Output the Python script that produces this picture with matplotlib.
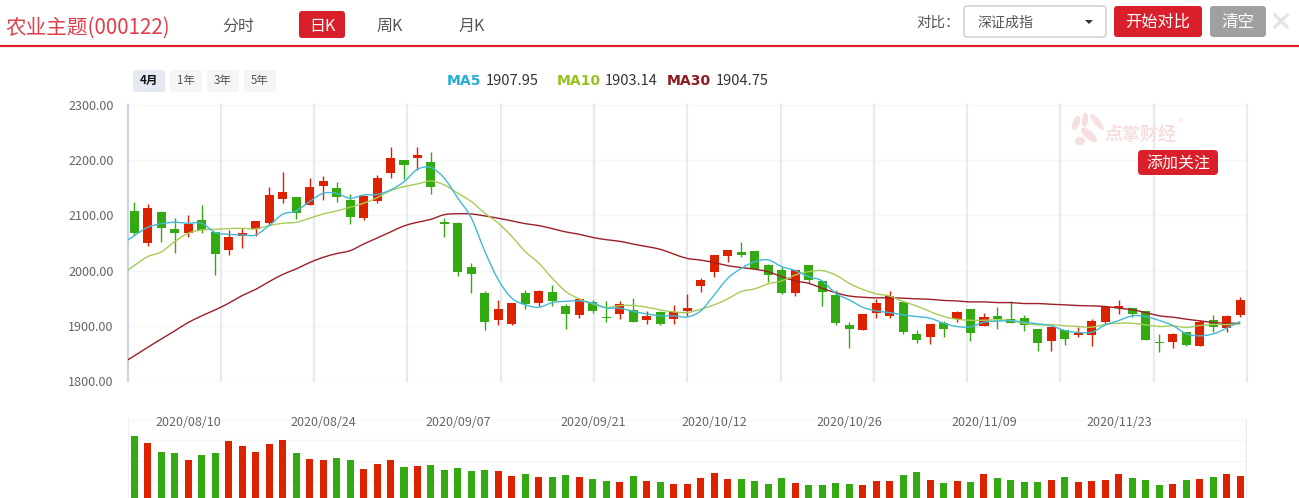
import matplotlib
matplotlib.use('Agg')
import matplotlib.pyplot as plt
from matplotlib.patches import FancyBboxPatch, PathPatch, Ellipse, Polygon
from matplotlib.path import Path
import numpy as np

plt.rcParams['font.family'] = ['Noto Sans CJK SC', 'DejaVu Sans']

opens = [2108, 2050.7, 2106, 2075.4, 2068.8, 2091.7, 2070, 2038, 2063, 2075.4, 2086, 2129.8, 2133.4, 2119, 2153.3, 2149.7, 2128, 2095, 2126, 2177.4, 2200.4, 2204,
         2196.8, 2088, 2086.3, 2006.7, 1959.6, 1910.7, 1903.5, 1959.6, 1941.5, 1961.4, 1936, 1919.8, 1943.3, 1916.1, 1921.6, 1928.8, 1910.7, 1925, 1912.5, 1927, 1972.3,
         1997.6, 2026.6, 2033.9, 2035.7, 2010.3, 2001.3, 1959.6, 2010.3, 1981.4, 1956, 1901.7, 1892.6, 1923.4, 1918, 1943.3, 1885.4, 1880, 1905.3, 1912.6, 1930.7,
         1899.9, 1918, 1912.6, 1914.4, 1894.5, 1872.7, 1892.7, 1883.6, 1883.6, 1907.1, 1932.5, 1932.5, 1927, 1871, 1871, 1889, 1863.7, 1910.8, 1896.3, 1919.8]
closes = [2069, 2113.5, 2078, 2068.8, 2084.5, 2073.6, 2030.8, 2061, 2068, 2090, 2137, 2142.4, 2105, 2151.5, 2162.4, 2133.4, 2097, 2135, 2167.8, 2204, 2191.3, 2209.4,
          2152, 2084.5, 1997.6, 1994, 1907, 1930.6, 1941.5, 1939.7, 1963, 1945, 1921.6, 1948.7, 1927, 1914.3, 1939.7, 1907, 1918, 1903.5, 1925, 1932.4, 1983,
          2028.4, 2037.5, 2028.4, 2003, 1992.2, 1959.6, 2001.3, 1983, 1961.4, 1905.3, 1894.4, 1921.6, 1941.5, 1954.2, 1889, 1874.5, 1903.5, 1894.4, 1925.2, 1887.2,
          1916.2, 1912.6, 1905.3, 1901.7, 1869.1, 1898.1, 1876.4, 1887.2, 1909, 1934.3, 1936.1, 1921.6, 1874.6, 1869.1, 1885.4, 1865.5, 1907.1, 1898, 1918, 1947]
highs = [2124, 2120.7, 2108, 2095, 2100.8, 2119, 2070, 2073.6, 2076.6, 2090, 2151.5, 2178.6, 2133.4, 2167.8, 2171.4, 2160.5, 2139, 2135, 2173, 2224, 2200.4, 2224,
         2214.9, 2095.4, 2088, 2013.9, 1963, 1946.9, 1941.5, 1965, 1965, 1974, 1939.7, 1950.5, 1946.9, 1945, 1945, 1950.5, 1927, 1927, 1937.9, 1957.8, 1986.7,
         2028.4, 2037.5, 2052, 2035.7, 2012, 2006.7, 2001.3, 2010.3, 1981.4, 1965, 1907, 1921.6, 1948.8, 1963.2, 1945, 1892.6, 1903.5, 1909, 1927, 1930.7,
         1923.4, 1934.3, 1945.2, 1919.8, 1894.5, 1898.1, 1892.7, 1898, 1912.6, 1934.3, 1947, 1932.5, 1927, 1885.4, 1887.2, 1889, 1910.8, 1919.8, 1919.8, 1952.4]
lows = [2065, 2045.3, 2051, 2031, 2061.6, 2068.8, 1992.8, 2029, 2041.6, 2063, 2082.7, 2123, 2094, 2119, 2128.6, 2124.3, 2085, 2091.7, 2122.5, 2167.8, 2166, 2183,
        2138.8, 2061, 1990.4, 1959.6, 1892.6, 1901.7, 1901.7, 1930.6, 1936, 1936, 1894.4, 1914.3, 1923.4, 1907, 1912.5, 1907, 1903.5, 1901.7, 1903.5, 1918, 1961.4,
        1988.6, 2015.7, 2024.8, 2003, 1979.5, 1957.8, 1954.2, 1977.7, 1936, 1901.7, 1860, 1892.6, 1914.4, 1914.4, 1885.4, 1869, 1867.3, 1880, 1907, 1872.7,
        1899.9, 1894.5, 1905.3, 1890.9, 1854.6, 1854.6, 1865.5, 1880, 1863.7, 1903.5, 1921.6, 1916.2, 1874.6, 1852.8, 1860, 1863.7, 1863.7, 1889, 1889, 1916.2]

# first value of each MA sits on the left edge of the plot
ma5 = [2055, 2063, 2078.5, 2085, 2087.5, 2085.7, 2085.7, 2069, 2065.8, 2064.6, 2064.6, 2081.5, 2102, 2108, 2125, 2140, 2140, 2131, 2137, 2138, 2146, 2161, 2183.5,
       2186.5, 2167, 2131, 2094.8, 2034.4, 1983, 1950, 1938, 1933.6, 1942, 1944.5, 1945, 1941, 1932.4, 1931.8, 1926, 1921.6, 1918, 1918, 1916, 1927,
       1956, 1986, 2004, 2016, 2019.4, 2007.3, 2000, 1989, 1981.4, 1959, 1947, 1933.7, 1927, 1924, 1919.8, 1916.8, 1913.8, 1904.7, 1898.7, 1898,
       1906.5, 1908.4, 1909, 1906.5, 1903.5, 1899.9, 1891.5, 1887.8, 1888.4, 1901.7, 1909.6, 1918, 1916.8, 1909.6, 1900.5, 1885.4, 1881.8, 1885.4, 1895.7, 1907.95]
ma10 = [2000.6, 2009, 2025.4, 2033.8, 2052.5, 2067.6, 2073.6, 2074.8, 2076, 2076.6, 2075.4, 2081.5, 2085.7, 2087.5, 2094.8, 2102.6, 2108, 2114.7, 2122, 2132, 2144.8, 2152, 2157,
        2162.4, 2155, 2140, 2125, 2103.8, 2085.7, 2061.6, 2034.4, 2013.3, 1986, 1962, 1948.7, 1939.7, 1933, 1936.7, 1936.7, 1933.6, 1928.8, 1925.2, 1924, 1930,
        1938, 1948.8, 1962, 1967, 1976, 1981.4, 1992, 1998, 2000, 1992, 1977, 1966, 1958, 1954, 1944, 1936, 1925.8, 1916.8, 1912, 1910,
        1910, 1910.8, 1909.6, 1904.7, 1901.7, 1902.3, 1899.9, 1898.7, 1897.5, 1902.3, 1904.7, 1904.7, 1901.7, 1898.7, 1899.9, 1896.9, 1900.5, 1902.3, 1902.3, 1903.14]
ma30 = [1838, 1845.5, 1861, 1876, 1890.8, 1905.9, 1918, 1928.8, 1940.9, 1954.7, 1966, 1980, 1993, 2003, 2014.5, 2024, 2030.8, 2036, 2048, 2059, 2070, 2081, 2087.5,
        2093, 2101.4, 2103, 2102.6, 2099, 2094.8, 2090, 2085, 2081.5, 2076, 2070, 2065.8, 2060, 2056, 2053, 2048, 2043.5, 2038.6, 2030, 2022, 2019,
        2014.5, 2009, 2005.5, 2002.5, 1998, 1989, 1981.4, 1977, 1968, 1960, 1954, 1951.8, 1950.6, 1951, 1950, 1948.8, 1948, 1946, 1945, 1943.3,
        1943.4, 1942, 1942, 1940.3, 1940.3, 1939, 1938, 1936.7, 1936, 1935, 1931.9, 1928.9, 1924, 1918, 1915.6, 1912, 1909, 1906, 1904.7, 1904.75]

volumes = [186, 165, 138, 135, 114, 129, 135, 171, 156, 138, 162, 174, 135, 117, 114, 120, 114, 87, 102, 114, 93, 96, 99, 84, 90, 81, 84, 81, 66, 72, 63, 63, 69, 63, 57, 51, 48, 66, 51, 48, 42, 42,
           60, 75, 57, 57, 51, 42, 60, 45, 39, 39, 45, 42, 39, 51, 51, 69, 78, 54, 45, 51, 48, 72, 60, 54, 48, 48, 54, 63, 48, 51, 54, 72, 60, 54, 39, 42, 54, 57, 63, 72, 66]

dates = ['2020/08/10', '2020/08/24', '2020/09/07', '2020/09/21', '2020/10/12', '2020/10/26', '2020/11/09', '2020/11/23']
date_idx = [4, 14, 24, 34, 43, 53, 63, 73]
price_ticks = [1800, 1900, 2000, 2100, 2200, 2300]

RED = '#dd2200'
GREEN = '#33aa11'
BRAND = '#d9202a'
W, H = 1299, 498


def smooth_path(x, y):
    # catmull-rom through the read values
    pts = list(zip(x, y))
    verts = [pts[0]]
    codes = [Path.MOVETO]
    for i in range(len(pts) - 1):
        p0 = pts[max(i - 1, 0)]
        p1 = pts[i]
        p2 = pts[i + 1]
        p3 = pts[min(i + 2, len(pts) - 1)]
        c1 = (p1[0] + (p2[0] - p0[0]) / 6, p1[1] + (p2[1] - p0[1]) / 6)
        c2 = (p2[0] - (p3[0] - p1[0]) / 6, p2[1] - (p3[1] - p1[1]) / 6)
        verts += [c1, c2, p2]
        codes += [Path.CURVE4] * 3
    return Path(verts, codes)


def px_axes(left, top, right, bottom):
    return fig.add_axes([left / W, 1 - bottom / H, (right - left) / W, (bottom - top) / H])


fig = plt.figure(figsize=(W / 100, H / 100), dpi=100)

n = len(closes)
idx = np.arange(n)
colors = [RED if c >= o else GREEN for o, c in zip(opens, closes)]
bottoms = [min(o, c) for o, c in zip(opens, closes)]
heights = [max(abs(c - o), 1.5) for o, c in zip(opens, closes)]
v_grid = -0.5 + np.arange(13) * n / 12

# price panel, on top of the volume panel so the date labels are not struck through
ax = px_axes(127.5, 105, 1247, 381)
ax.set_zorder(2)
ax.set_xlim(-0.5, n - 0.5)
ax.set_ylim(1800, 2300)
for s in ax.spines.values():
    s.set_visible(False)
ax.set_yticks(price_ticks, ['%.2f' % t for t in price_ticks], color='#666666', fontsize=9.1)
ax.set_xticks(date_idx, dates, color='#666666', fontsize=9)
ax.tick_params(axis='y', length=0, pad=10)
ax.tick_params(axis='x', length=0, pad=25)
for lab in ax.get_xticklabels():
    lab.set_bbox(dict(fc='white', ec='none', pad=0.5))
for t in price_ticks:
    ax.axhline(t, color='#f6f7f8', lw=1, zorder=0)
for k, v in enumerate(v_grid):
    ax.axvline(v, color='#ccd6e2' if k == 0 else '#e6ebf2', lw=1.6, zorder=0, clip_on=False)
ax.vlines(idx, lows, highs, colors=colors, lw=1, zorder=2)
ax.bar(idx, heights, bottom=bottoms, width=0.67, color=colors, zorder=2)
line_x = np.r_[-0.5, idx]
for vals, col in [(ma30, '#9c1f28'), (ma10, '#a8cb55'), (ma5, '#42b9d8')]:
    ax.add_patch(PathPatch(smooth_path(line_x, vals), fc='none', ec=col, lw=1.0, zorder=3))

# volume panel, baseline runs off the bottom of the page
vax = px_axes(127.5, 418, 1247, 498)
vax.set_zorder(1)
vax.set_xlim(-0.5, n - 0.5)
vax.set_ylim(0, 240)
vax.axis('off')
for t in [51, 112, 173, 234]:
    vax.axhline(t, color='#f6f7f8', lw=1, zorder=0)
vax.axvline(-0.5, color='#eef1f6', lw=1.6, zorder=0)
vax.axvline(n - 0.5, color='#e6ebf2', lw=1.6, zorder=0)
vax.bar(idx, volumes, width=0.52, color=colors, zorder=2)

# page furniture in pixel coordinates
ui = fig.add_axes([0, 0, 1, 1], facecolor='none')
ui.set_zorder(3)
ui.set_xlim(0, W)
ui.set_ylim(H, 0)
ui.axis('off')


def button(x0, y0, x1, y1, fc, ec='none', r=3):
    ui.add_patch(FancyBboxPatch((x0 + r, y0 + r), x1 - x0 - 2 * r, y1 - y0 - 2 * r,
                                boxstyle='round,pad=%d,rounding_size=%d' % (r, r), fc=fc, ec=ec, lw=1))


def label(x, y, s, size=14, color='#555555', ha='center', **kw):
    ui.text(x, y + 1.5, s, fontsize=size * 0.72, color=color, ha=ha, va='center', **kw)


ui.plot([0, W], [46, 46], color=BRAND, lw=1.6)
label(5, 26, '农业主题(000122)', size=20.6, color='#e0404e', ha='left')
label(238, 25, '分时', size=16)
button(299, 11, 345, 38, BRAND)
label(322, 25, '日K', size=16, color='white')
label(390, 25, '周K', size=16)
label(472, 25, '月K', size=16)

label(916, 21, '对比：', size=14.5, ha='left')
button(964, 6, 1106, 37, 'white', ec='#cccccc')
label(977, 21, '深证成指', size=14, ha='left')
ui.add_patch(Polygon([[1085, 20], [1093, 20], [1089, 24]], fc='#333333', ec='none'))
button(1114, 6, 1202, 37, BRAND)
label(1158, 21, '开始对比', size=16.2, color='white')
button(1210, 6, 1266, 37, '#a0a0a0')
label(1238, 21, '清空', size=16.5, color='white')
ui.plot([1275, 1287], [15, 27], color='#e4e4e4', lw=2.4)
ui.plot([1275, 1287], [27, 15], color='#e4e4e4', lw=2.4)

for x0, s, fc, bold in [(133, '4月', '#e4e9f3', True), (170, '1年', '#f5f5f5', False),
                        (207, '3年', '#f5f5f5', False), (244, '5年', '#f5f5f5', False)]:
    button(x0, 70, x0 + 32, 92, fc, r=2)
    label(x0 + 16, 79, s, size=11.5, color='#111111' if bold else '#555555',
          fontweight='bold' if bold else 'normal')

label(447, 79, 'MA5', size=14, color='#25aed2', ha='left', fontweight='bold', family='DejaVu Sans')
label(486, 79, '1907.95', size=14.6, color='#333333', ha='left')
label(557, 79, 'MA10', size=14, color='#97c11f', ha='left', fontweight='bold', family='DejaVu Sans')
label(605, 79, '1903.14', size=14.6, color='#333333', ha='left')
label(667, 79, 'MA30', size=14, color='#8e1a22', ha='left', fontweight='bold', family='DejaVu Sans')
label(716, 79, '1904.75', size=14.6, color='#333333', ha='left')

# watermark
PINK = '#f7dfe0'
for cx, cy, w, h, ang in [(1076, 123, 7, 15, 20), (1085, 120, 6, 15, 5), (1097, 122, 6, 20, -40),
                          (1089, 135, 20, 8, 40), (1080, 141, 10, 8, 0)]:
    ui.add_patch(Ellipse((cx, cy), w, h, angle=ang, fc=PINK, ec='none'))
label(1140, 133, '点掌财经', size=18, color=PINK, fontweight='bold')
label(1181, 121, '®', size=8, color=PINK)
button(1138, 150, 1218, 175, BRAND, r=4)
label(1178, 162.5, '添加关注', size=16, color='white')

fig.savefig('out.png', dpi=100)
